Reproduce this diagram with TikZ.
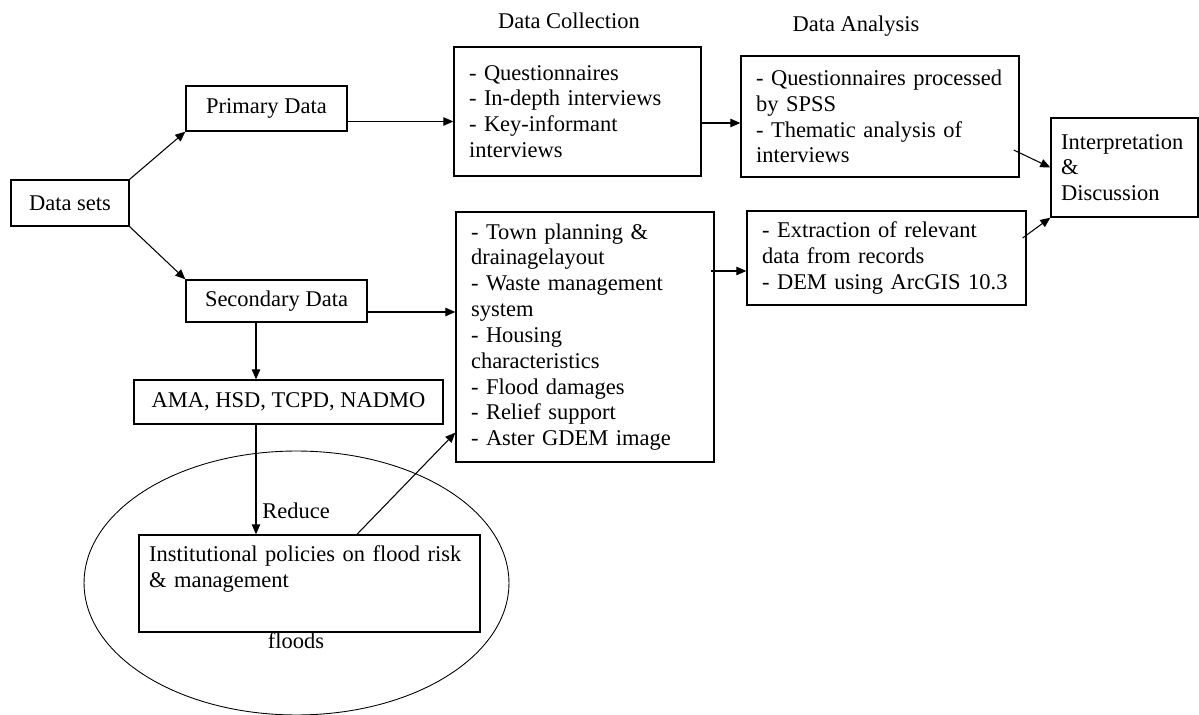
\documentclass[tikz,border=0pt]{standalone}
\usepackage{fontspec}
\setmainfont{Liberation Serif}
\usetikzlibrary{arrows.meta,calc}

\begin{document}
\begin{tikzpicture}[x=0.02cm,y=-0.02cm]
%style for boxes
\tikzstyle{box} = [rectangle, draw=black, line width=0.8pt, align=left, inner xsep=0.3cm, font=\fontsize{12.8}{14.7}\selectfont]

%style for free labels
\tikzstyle{lbl} = [inner sep=0pt, font=\fontsize{12.8}{14.7}\selectfont]

%style for arrows
\tikzstyle{arr} = [-{Triangle[length=0.2cm,width=0.17cm]}, line width=0.6pt]

\useasboundingbox (0,0) rectangle (1199,715);

%place nodes
\node[box, align=center, minimum width=2.36cm, minimum height=0.92cm] (dsets) at (70,203) {Data sets};
\node[box, align=center, minimum width=3.22cm, minimum height=0.9cm] (prim) at (266.5,108.5) {Primary Data};
\node[box, align=center, minimum width=3.62cm, minimum height=0.84cm] (sec) at (276.5,301) {Secondary Data};
\node[box, align=center, minimum width=6.18cm, minimum height=0.88cm] (agency) at (288.5,402) {AMA, HSD, TCPD, NADMO};
\node[box, inner xsep=0.2cm, text width=6.42cm, minimum height=1.94cm] (policy) at (309.5,583.5) {Institutional policies on flood risk\\ \& management\\ \strut};

\node[lbl] (colltitle) at (569,21) {Data Collection};
\node[box, text width=4.34cm, minimum height=2.58cm] (collect) at (577.5,111.5) {- Questionnaires\\ - In-depth interviews\\ - Key-informant\\ interviews};
\node[box, text width=4.56cm, minimum height=5cm] (secdata) at (585,337) {- Town planning \&\\ drainagelayout\\ - Waste management\\ system\\ - Housing\\ characteristics\\ - Flood damages\\ - Relief support\\ - Aster GDEM image};

\node[lbl] (antitle) at (856,26) {Data Analysis};
\node[box, text width=4.96cm, minimum height=2.42cm] (analysis) at (880,116.5) {- Questionnaires processed\\ by SPSS\\ - Thematic analysis of\\ interviews};
\node[box, text width=4.98cm, minimum height=1.88cm] (extract) at (886.5,258) {- Extraction of relevant\\ data from records\\ - DEM using ArcGIS 10.3};

\node[box, inner xsep=0.2cm, text width=2.54cm, minimum height=1.98cm] (interp) at (1124.5,167.5) {Interpretation\\ \&\\ Discussion};

\node[lbl, anchor=west] (reduce) at (262,511) {Reduce};
\node[lbl] (floods) at (296,641) {floods};

% ellipse round the policies
\draw[line width=0.5pt] (296.5,583) ellipse [x radius=4.25cm, y radius=2.64cm];

%connect nodes with lines
\draw[arr] (dsets.north east) -- (prim.south west);
\draw[arr] (dsets.south east) -- (sec.north west);

\coordinate (p1) at ($(prim.east)+(0,13)$);
\draw[arr] (p1) -- (p1 -| collect.west);
\coordinate (s1) at ($(sec.east)+(0,11)$);
\draw[arr] (s1) -- (s1 -| secdata.west);

\coordinate (c1) at ($(collect.east)+(0,11.5)$);
\draw[arr] (c1) -- (c1 -| analysis.west);
\coordinate (t1) at ($(extract.west)+(0,13)$);
\draw[arr] ($(t1 -| secdata.east)+(-4,0)$) -- (t1);

\coordinate (a1) at ($(analysis.east)+(-6,33.5)$);
\draw[arr] (a1) -- (interp.west);
\coordinate (e1) at ($(extract.east)+(-4,-20)$);
\draw[arr] (e1) -- (interp.south west);

% drop from secondary data to the policies
\coordinate (drop) at (256,0);
\draw[arr] (sec.south -| drop) -- (agency.north -| drop);
\draw[arr] (agency.south -| drop) -- (policy.north -| drop);

\coordinate (q1) at ($(policy.north)+(47.5,0)$);
\coordinate (q2) at ($(secdata.south west)+(0,-30)$);
\draw[arr] (q1) -- (q2);
\end{tikzpicture}
\end{document}
